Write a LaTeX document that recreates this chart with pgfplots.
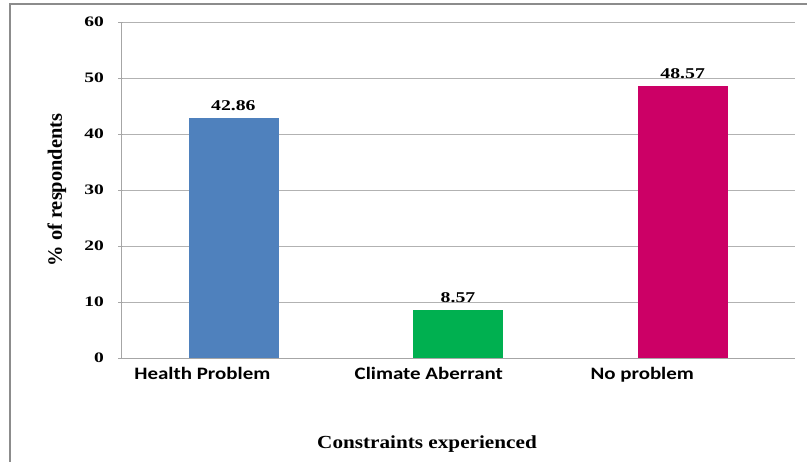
\documentclass[border=0pt]{standalone}
\usepackage{pgfplots}
\pgfplotsset{compat=1.18}
\usepackage{fontspec}
\setmainfont{Liberation Serif}
\newfontfamily\catfont[FakeStretch=1.2]{Carlito}
\newfontfamily\valfont[FakeStretch=1.32]{Liberation Serif}
\newfontfamily\tickfont[FakeStretch=1.35]{Liberation Serif}
\newfontfamily\xlabfont[FakeStretch=1.15]{Liberation Serif}
\definecolor{hblue}{HTML}{4F81BD}
\definecolor{cgreen}{HTML}{00B050}
\definecolor{npink}{HTML}{CC0066}
\begin{document}
\begin{tikzpicture}[x=1bp,y=1bp]
\begin{axis}[
  at={(0,0)}, anchor=south west,
  scale only axis, width=674bp, height=336bp,
  xmin=-0.5, xmax=2.5, ymin=0, ymax=60,
  ytick={0,10,...,60},
  % category labels sit a little left of their bars, as in the original
  xtick={-0.138,0.87,1.82},
  xticklabels={Health Problem, Climate Aberrant, No problem},
  xticklabel style={font=\catfont\bfseries\fontsize{17.5}{20}\selectfont, yshift=-1bp},
  major x tick style={draw=none},
  yticklabel style={font=\tickfont\bfseries\fontsize{14.5}{16}\selectfont, xshift=-11bp},
  /pgf/number format/assume math mode=true,
  tick align=outside, major tick length=5bp,
  ytick style={gray!70},
  axis x line=bottom, axis y line=left,
  axis line style={-, gray!70},
  ymajorgrids, major grid style={gray!60},
  ylabel={\% of respondents},
  ylabel style={at={(axis description cs:-0.095,0.5)}, anchor=center,
    font=\bfseries\fontsize{20.5}{22}\selectfont},
  xlabel={Constraints experienced},
  xlabel style={at={(axis description cs:0.454,-0.256)}, anchor=center,
    font=\xlabfont\bfseries\fontsize{18.5}{20}\selectfont},
  ybar=0pt, bar width=89bp, bar shift=0pt,
  nodes near coords={\pgfmathprintnumber[fixed,precision=2,fixed zerofill]{\pgfplotspointmeta}},
  every node near coord/.append style={font=\valfont\bfseries\fontsize{15}{16}\selectfont, yshift=4bp},
]
\addplot[fill=hblue, draw=hblue] coordinates {(0,42.86)};
\addplot[fill=cgreen, draw=cgreen] coordinates {(1,8.57)};
\addplot[fill=npink, draw=npink] coordinates {(2,48.57)};
\end{axis}
\draw[gray!90, line width=1.5bp] (-111,-130) -- (-111,354) -- (700,354);
\pgfresetboundingbox
\useasboundingbox (-121,-104) rectangle (686,358);
\end{tikzpicture}
\end{document}
